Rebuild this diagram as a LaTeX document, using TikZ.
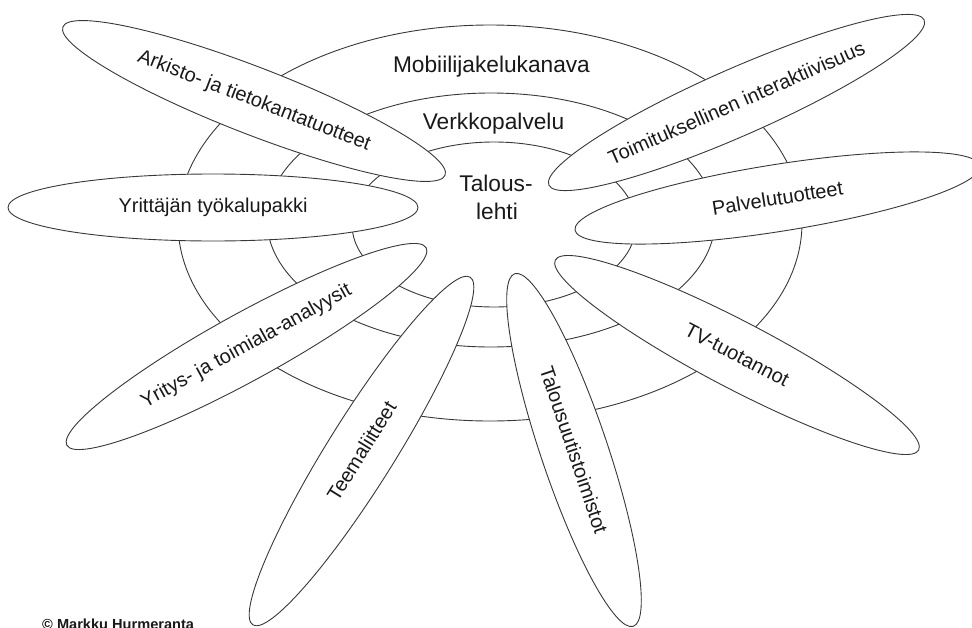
\documentclass[tikz,border=0pt]{standalone}
\usepackage{fontspec}
\setmainfont{Liberation Sans}
\usetikzlibrary{shapes.geometric}
\definecolor{linec}{gray}{0.22}
\definecolor{txtc}{gray}{0.1}
\begin{document}
\begin{tikzpicture}[x=1pt,y=-1pt,
  ring/.style={ellipse, draw=linec, line width=0.9pt, inner sep=0pt},
  petal/.style={ellipse, draw=linec, fill=white, line width=0.9pt, inner sep=0pt,
    minimum width=410pt, minimum height=67pt, font=\fontsize{20}{24}\selectfont, text=txtc},
  ringlabel/.style={anchor=base, inner sep=0pt, font=\fontsize{22.7}{27}\selectfont, text=txtc}]
\useasboundingbox (0,0) rectangle (972,627);
\clip (0,0) rectangle (972,627);
% concentric rings
\node[ring, minimum width=624pt, minimum height=396pt] (outer) at (490,223) {};
\node[ring, minimum width=448pt, minimum height=254pt] (middle) at (491,220) {};
\node[ring, minimum width=284pt, minimum height=165pt] (inner) at (494,224.5) {};
% ring labels
\node[ringlabel] (mob) at (491.5,72) {Mobiilijakelukanava};
\node[ringlabel] (verk) at (493.5,129.5) {Verkkopalvelu};
\node[ringlabel] (tal1) at (496,191.7) {Talous-};
\node[ringlabel] (tal2) at (497,219.3) {lehti};
% petals
\node[petal, rotate=-21.2] (ark) at (254,101) {Arkisto- ja tietokantatuotteet};
\node[petal] (yri) at (213,207.5) {Yrittäjän työkalupakki};
\node[petal, rotate=28.8] (ana) at (246.5,346.5) {Yritys- ja toimiala-analyysit};
\node[petal, rotate=58] (tee) at (361.5,451) {Teemaliitteet};
\node[petal, rotate=-71.4, minimum width=372pt] (tuu) at (574,450) {Talousuutistoimistot};
\node[petal, rotate=-27.6] (tv) at (737,355) {TV-tuotannot};
\node[petal, rotate=9] (pal) at (777.5,198) {Palvelutuotteet};
\node[petal, rotate=23.75] (toi) at (736.5,102.5) {Toimituksellinen interaktiivisuus};
% copyright
\node[anchor=base west, inner sep=0pt, font=\fontsize{14.6}{17}\selectfont\bfseries, text=txtc] (copy) at (42,629) {© Markku Hurmeranta};
\end{tikzpicture}
\end{document}
